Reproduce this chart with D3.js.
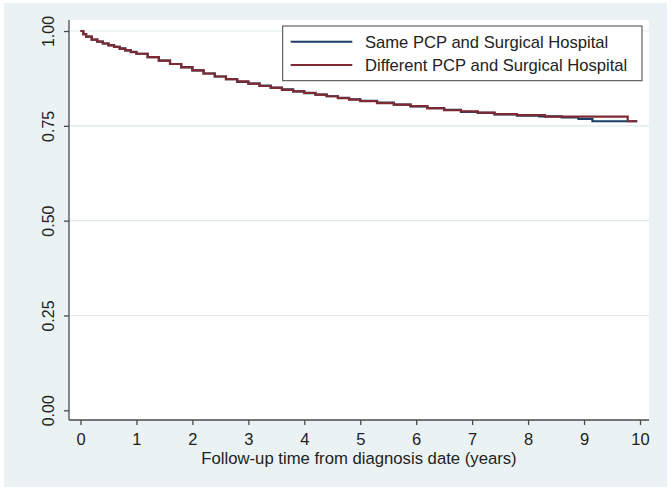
<!DOCTYPE html>
<html><head><meta charset="utf-8">
<script src="https://cdn.jsdelivr.net/npm/d3@7"></script>
<style>body{margin:0;background:#fff}svg{display:block}text{font-family:"Liberation Sans",Arial,sans-serif;fill:#222}</style>
</head><body><svg id="c" width="672" height="493"></svg>
<script>
const seriesNames = ["Same PCP and Surgical Hospital", "Different PCP and Surgical Hospital"];
const sameTime = [0, 0.05, 0.1, 0.2, 0.3, 0.4, 0.5, 0.6, 0.7, 0.8, 0.9, 1.0, 1.2, 1.4, 1.6, 1.8, 2.0, 2.2, 2.4, 2.6, 2.8, 3.0, 3.2, 3.4, 3.6, 3.8, 4.0, 4.2, 4.4, 4.6, 4.8, 5.0, 5.3, 5.6, 5.9, 6.2, 6.5, 6.8, 7.1, 7.4, 7.8, 8.2, 8.6, 8.9, 9.15, 9.95];
const sameSurv = [1.000, 0.992, 0.985, 0.977, 0.972, 0.967, 0.963, 0.958, 0.954, 0.949, 0.945, 0.940, 0.931, 0.922, 0.913, 0.905, 0.896, 0.888, 0.880, 0.873, 0.866, 0.861, 0.856, 0.851, 0.846, 0.841, 0.836, 0.832, 0.828, 0.824, 0.820, 0.816, 0.811, 0.806, 0.801, 0.797, 0.792, 0.787, 0.784, 0.780, 0.777, 0.775, 0.772, 0.768, 0.762, 0.762];
const diffTime = [0, 0.05, 0.1, 0.2, 0.3, 0.4, 0.5, 0.6, 0.7, 0.8, 0.9, 1.0, 1.2, 1.4, 1.6, 1.8, 2.0, 2.2, 2.4, 2.6, 2.8, 3.0, 3.2, 3.4, 3.6, 3.8, 4.0, 4.2, 4.4, 4.6, 4.8, 5.0, 5.3, 5.6, 5.9, 6.2, 6.5, 6.8, 7.1, 7.4, 7.8, 8.3, 9.78, 9.95];
const diffSurv = [1.000, 0.992, 0.985, 0.977, 0.972, 0.967, 0.962, 0.958, 0.953, 0.949, 0.944, 0.940, 0.931, 0.922, 0.913, 0.904, 0.896, 0.888, 0.880, 0.873, 0.867, 0.861, 0.855, 0.850, 0.845, 0.841, 0.837, 0.832, 0.828, 0.823, 0.819, 0.815, 0.810, 0.806, 0.802, 0.796, 0.791, 0.788, 0.785, 0.781, 0.778, 0.774, 0.762, 0.762];
const xTicks = [0,1,2,3,4,5,6,7,8,9,10];
const yTicks = [0, 0.25, 0.5, 0.75, 1.0];
const yTickLabels = ["0.00","0.25","0.50","0.75","1.00"];
const xTitle = "Follow-up time from diagnosis date (years)";

const svg = d3.select("#c");
const bg = "#eaf2f3";
svg.append("rect").attr("x",4).attr("y",3).attr("width",663).attr("height",484).attr("fill",bg);
const L=69, R=649, T=20, B=420;
svg.append("rect").attr("x",L).attr("y",T).attr("width",R-L).attr("height",B-T).attr("fill","#fff");

const x = d3.scaleLinear().domain([0,10]).range([80.5,640]);
const y = d3.scaleLinear().domain([0,1]).range([410.3,31]);

// gridlines
svg.append("g").selectAll("line").data(yTicks.filter(d=>d>0)).join("line")
  .attr("x1",L).attr("x2",R).attr("y1",d=>y(d)).attr("y2",d=>y(d))
  .attr("stroke","#dfe9ec").attr("stroke-width",1.2);

// axes
const xAxis = svg.append("g").attr("transform",`translate(0,${B})`)
  .call(d3.axisBottom(x).tickValues(xTicks).tickSize(5).tickSizeOuter(0).tickFormat(d3.format("d")));
xAxis.select(".domain").attr("d",`M${L},0H${R}`);
const yAxis = svg.append("g").attr("transform",`translate(${L},0)`)
  .call(d3.axisLeft(y).tickValues(yTicks).tickSize(5).tickSizeOuter(0).tickFormat((d,i)=>yTickLabels[i]));
yAxis.select(".domain").attr("d",`M0,${T}V${B}`);
svg.selectAll(".domain").attr("stroke","#4a4a4a").attr("stroke-width",1.3);
svg.selectAll(".tick line").attr("stroke","#4a4a4a").attr("stroke-width",1.3);
xAxis.selectAll(".tick text").attr("y",null).attr("dy",null).attr("transform","translate(0,25)")
  .style("font-family",'"Liberation Sans",Arial,sans-serif').style("font-size","16.5px").attr("fill","#222");
yAxis.selectAll(".tick text").attr("x",null).attr("dy",null)
  .attr("transform","translate(-15,0) rotate(-90)").attr("text-anchor","middle")
  .style("font-family",'"Liberation Sans",Arial,sans-serif').style("font-size","16px").attr("fill","#222");

svg.append("text").attr("x",(L+R)/2).attr("y",464).attr("text-anchor","middle")
  .style("font-size","16.7px").text(xTitle);

// curves
const line = d3.line().x(d=>x(d[0])).y(d=>y(d[1])).curve(d3.curveStepAfter);
const sameData = d3.zip(sameTime, sameSurv);
const diffData = d3.zip(diffTime, diffSurv);
const colors = ["#1a3f66","#7f2a33"];
svg.append("path").datum(sameData).attr("d",line).attr("fill","none").attr("stroke",colors[0]).attr("stroke-width",2.2);
svg.append("path").datum(diffData).attr("d",line).attr("fill","none").attr("stroke",colors[1]).attr("stroke-width",2.2);

// legend
const lg = svg.append("g");
lg.append("rect").attr("x",282.7).attr("y",26).attr("width",359.3).attr("height",54.7)
  .attr("fill","#fff").attr("stroke","#444").attr("stroke-width",1);
const rows=[41.7,65];
seriesNames.forEach((n,i)=>{
  lg.append("line").attr("x1",290.7).attr("x2",352.3).attr("y1",rows[i]).attr("y2",rows[i])
    .attr("stroke",colors[i]).attr("stroke-width",2);
  lg.append("text").attr("x",365).attr("y",rows[i]+6).style("font-size","16.6px").text(n);
});
</script></body></html>
